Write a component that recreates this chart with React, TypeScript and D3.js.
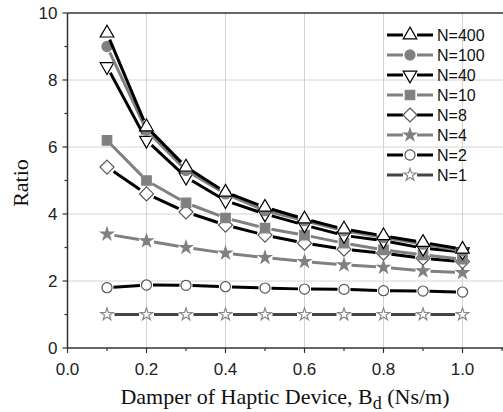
import React from "react";
import * as d3 from "d3";

const xValues = [0.1, 0.2, 0.3, 0.4, 0.5, 0.6, 0.7, 0.8, 0.9, 1.0];
const n400 = [9.4, 6.6, 5.4, 4.65, 4.2, 3.85, 3.55, 3.35, 3.15, 2.95];
const n100 = [9.0, 6.5, 5.3, 4.6, 4.1, 3.8, 3.5, 3.3, 3.1, 2.9];
const n40 = [8.4, 6.2, 5.1, 4.4, 4.0, 3.67, 3.36, 3.2, 2.98, 2.87];
const n10 = [6.2, 5.0, 4.33, 3.88, 3.58, 3.37, 3.13, 2.93, 2.78, 2.65];
const n8 = [5.4, 4.6, 4.06, 3.67, 3.37, 3.13, 2.95, 2.83, 2.68, 2.58];
const n4 = [3.4, 3.2, 3.0, 2.83, 2.7, 2.58, 2.48, 2.41, 2.3, 2.25];
const n2 = [1.8, 1.88, 1.87, 1.83, 1.79, 1.76, 1.75, 1.71, 1.7, 1.67];
const n1 = [1.0, 1.0, 1.0, 1.0, 1.0, 1.0, 1.0, 1.0, 1.0, 1.0];
const seriesNames = ["N=400", "N=100", "N=40", "N=10", "N=8", "N=4", "N=2", "N=1"];
const xTicks = [0, 0.2, 0.4, 0.6, 0.8, 1.0, 1.2];
const yTicks = [0, 2, 4, 6, 8, 10];

type Marker = "triUp" | "circle" | "triDown" | "square" | "diamond" | "star";
interface Series {
  name: string;
  values: number[];
  line: string;
  marker: Marker;
  fill: string;
  stroke: string;
}

const series: Series[] = [
  { name: seriesNames[0], values: n400, line: "#000", marker: "triUp", fill: "#fff", stroke: "#000" },
  { name: seriesNames[1], values: n100, line: "#808080", marker: "circle", fill: "#808080", stroke: "#808080" },
  { name: seriesNames[2], values: n40, line: "#000", marker: "triDown", fill: "#fff", stroke: "#000" },
  { name: seriesNames[3], values: n10, line: "#808080", marker: "square", fill: "#808080", stroke: "#808080" },
  { name: seriesNames[4], values: n8, line: "#000", marker: "diamond", fill: "#fff", stroke: "#555" },
  { name: seriesNames[5], values: n4, line: "#808080", marker: "star", fill: "#808080", stroke: "#808080" },
  { name: seriesNames[6], values: n2, line: "#000", marker: "circle", fill: "#fff", stroke: "#555" },
  { name: seriesNames[7], values: n1, line: "#444", marker: "star", fill: "#fff", stroke: "#888" },
];

const W = 503;
const H = 412;
const x = d3.scaleLinear().domain([0, 1.2]).range([67.5, 541.5]);
const y = d3.scaleLinear().domain([0, 10]).range([348, 13]);

function markerPath(m: Marker): string {
  switch (m) {
    case "triUp":
    case "triDown":
      return d3.symbol(d3.symbolTriangle, 80)()!;
    case "circle":
      return d3.symbol(d3.symbolCircle, 80)()!;
    case "square":
      return d3.symbol(d3.symbolSquare, 90)()!;
    case "diamond": {
      const r = 7;
      return `M0,${-r}L${r},0L0,${r}L${-r},0Z`;
    }
    case "star":
      return d3.symbol(d3.symbolStar, 48)()!;
  }
}

const gapFor: Record<Marker, number> = {
  triUp: 7,
  triDown: 7,
  circle: 6.5,
  square: 6.5,
  diamond: 8,
  star: 7.5,
};

function Seg({ s }: { s: Series }) {
  const pts = s.values.map((v, i) => [x(xValues[i]), y(v)] as [number, number]);
  const g = gapFor[s.marker];
  const segs: string[] = [];
  for (let i = 0; i < pts.length - 1; i++) {
    const [x0, y0] = pts[i];
    const [x1, y1] = pts[i + 1];
    const dx = x1 - x0;
    const dy = y1 - y0;
    const len = Math.hypot(dx, dy);
    const ux = dx / len;
    const uy = dy / len;
    segs.push(`M${x0 + ux * g},${y0 + uy * g}L${x1 - ux * g},${y1 - uy * g}`);
  }
  return <path d={segs.join("")} stroke={s.line} strokeWidth={3} fill="none" />;
}

function Mark({ s, cx, cy }: { s: Series; cx: number; cy: number }) {
  const rot = s.marker === "triDown" ? " rotate(180)" : "";
  return (
    <path
      d={markerPath(s.marker)}
      transform={`translate(${cx},${cy})${rot}`}
      fill={s.fill}
      stroke={s.stroke}
      strokeWidth={1.2}
    />
  );
}

export default function App() {
  const minorX = d3.range(1, 12, 2).map((d) => d / 10);
  const minorY = [1, 3, 5, 7, 9];
  const axisColor = "#333";
  const tickFont = "'Liberation Sans', Arial, sans-serif";
  const serifFont = "'Liberation Serif', 'Times New Roman', serif";
  return (
    <svg
      width={W}
      height={H}
      style={{ position: "absolute", left: 0, top: 0, background: "#fff" }}
    >
      <rect x={0} y={0} width={W} height={H} fill="#fff" />
      {xTicks.slice(1).map((t) => (
        <line key={"gx" + t} x1={x(t)} x2={x(t)} y1={y(0)} y2={y(10)} stroke="#d4d4d4" strokeWidth={1} />
      ))}
      {yTicks.slice(1, -1).map((t) => (
        <line key={"gy" + t} x1={x(0)} x2={x(1.2)} y1={y(t)} y2={y(t)} stroke="#d4d4d4" strokeWidth={1} />
      ))}
      <line x1={x(0)} x2={x(1.2)} y1={y(0)} y2={y(0)} stroke={axisColor} strokeWidth={1.5} />
      <line x1={x(0)} x2={x(1.2)} y1={y(10)} y2={y(10)} stroke={axisColor} strokeWidth={1.5} />
      <line x1={x(0)} x2={x(0)} y1={y(0)} y2={y(10)} stroke={axisColor} strokeWidth={1.5} />
      {xTicks.map((t) => (
        <line key={"tx" + t} x1={x(t)} x2={x(t)} y1={y(0)} y2={y(0) + 5} stroke={axisColor} strokeWidth={1.2} />
      ))}
      {minorX.map((t) => (
        <line key={"mx" + t} x1={x(t)} x2={x(t)} y1={y(0)} y2={y(0) + 3} stroke={axisColor} strokeWidth={1.2} />
      ))}
      {yTicks.map((t) => (
        <line key={"ty" + t} x1={x(0) - 5} x2={x(0)} y1={y(t)} y2={y(t)} stroke={axisColor} strokeWidth={1.2} />
      ))}
      {minorY.map((t) => (
        <line key={"my" + t} x1={x(0) - 3} x2={x(0)} y1={y(t)} y2={y(t)} stroke={axisColor} strokeWidth={1.2} />
      ))}
      {xTicks.slice(0, 6).map((t) => (
        <text key={"lx" + t} x={x(t)} y={y(0) + 27} textAnchor="middle" fontFamily={tickFont} fontSize={17} fill="#222">
          {t.toFixed(1)}
        </text>
      ))}
      {yTicks.map((t) => (
        <text key={"ly" + t} x={x(0) - 10} y={y(t) + 6} textAnchor="end" fontFamily={tickFont} fontSize={17} fill="#222">
          {t}
        </text>
      ))}
      <text x={285} y={404} textAnchor="middle" fontFamily={serifFont} fontSize={22} fill="#111">
        Damper of Haptic Device, B
        <tspan fontSize={18} dy={5}>d</tspan>
        <tspan dy={-5}> (Ns/m)</tspan>
      </text>
      <text
        transform={`translate(28,183) rotate(-90)`}
        textAnchor="middle"
        fontFamily={serifFont}
        fontSize={22}
        fill="#111"
      >
        Ratio
      </text>
      {series.slice().reverse().map((s) => (
        <g key={s.name}>
          <Seg s={s} />
          {s.values.map((v, i) => (
            <Mark key={i} s={s} cx={x(xValues[i])} cy={y(v)} />
          ))}
        </g>
      ))}
      {series.map((s, i) => {
        const ly = 35 + i * 20;
        return (
          <g key={"lg" + s.name}>
            <line x1={387} x2={403} y1={ly} y2={ly} stroke={s.line} strokeWidth={3} />
            <line x1={417} x2={433} y1={ly} y2={ly} stroke={s.line} strokeWidth={3} />
            <Mark s={s} cx={410} cy={ly} />
            <text x={437} y={ly + 6} fontFamily={tickFont} fontSize={16} fill="#111">
              {s.name}
            </text>
          </g>
        );
      })}
    </svg>
  );
}
